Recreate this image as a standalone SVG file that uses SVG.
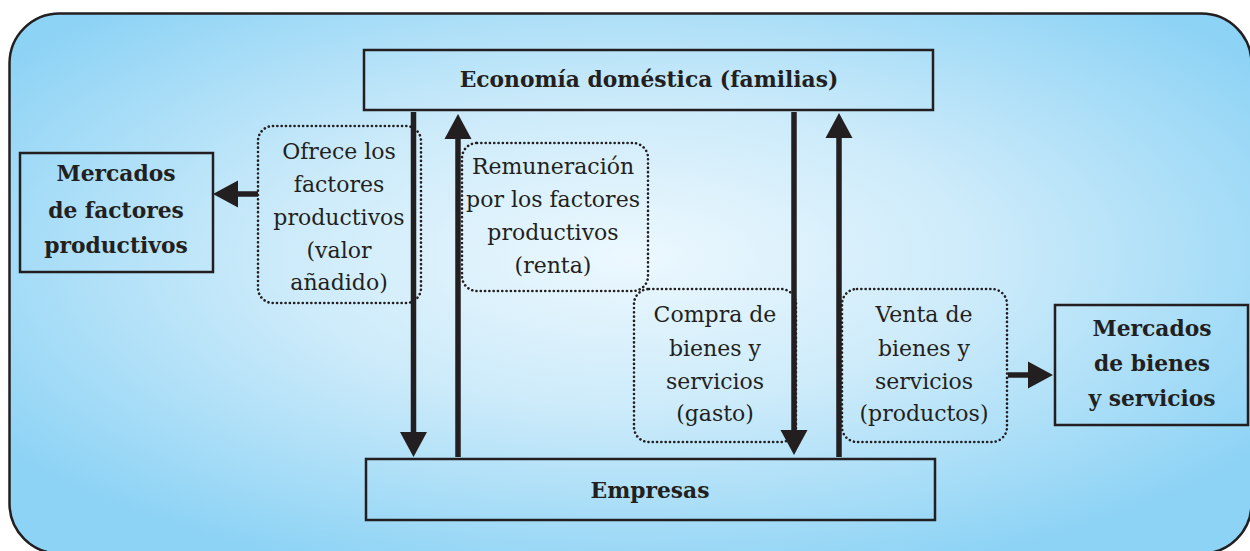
<svg xmlns="http://www.w3.org/2000/svg" width="1250" height="551" viewBox="0 0 1250 551">
<defs>
<radialGradient id="bg" cx="0.5" cy="0.45" r="0.62">
<stop offset="0" stop-color="#ecf8fe"/>
<stop offset="0.45" stop-color="#cdebfa"/>
<stop offset="1" stop-color="#8dd3f5"/>
</radialGradient>
<marker id="ah" markerUnits="userSpaceOnUse" markerWidth="26" markerHeight="28" refX="0" refY="13.5" orient="auto" overflow="visible">
<path d="M0,0 L25,13.5 L0,27 Z" fill="#231f20"/>
</marker>
<style>
.box{fill:none;stroke:#231f20;stroke-width:2.5}
.dot{fill:none;stroke:#231f20;stroke-width:2.6;stroke-dasharray:0.1 4.2;stroke-linecap:round}
.arr{stroke:#231f20;stroke-width:5.5;fill:none;marker-end:url(#ah)}
.t{font-family:"DejaVu Serif","Liberation Serif",serif;font-size:22px;fill:#231f20;text-anchor:middle}
.b{font-family:"DejaVu Serif","Liberation Serif",serif;font-size:21.8px;font-weight:bold;fill:#231f20;text-anchor:middle}
</style>
</defs>
<rect x="9.5" y="13.5" width="1242" height="540" rx="50" ry="50" fill="url(#bg)" stroke="#231f20" stroke-width="2.5"/>
<g id="connectors">
<line class="arr" x1="413.5" y1="112" x2="413.5" y2="432"/>
<line class="arr" x1="458" y1="457" x2="458" y2="139"/>
<line class="arr" x1="794" y1="112" x2="794" y2="430"/>
<line class="arr" x1="839" y1="457" x2="839" y2="138"/>
<line class="arr" x1="258" y1="194" x2="238" y2="194"/>
<line class="arr" x1="1008" y1="375" x2="1028" y2="375"/>
</g>
<g id="familias">
<rect class="box" x="364" y="50" width="569" height="60"/>
<text class="b" x="649" y="87">Economía doméstica (familias)</text>
</g>
<g id="empresas">
<rect class="box" x="366" y="459" width="569" height="61"/>
<text class="b" x="650" y="498">Empresas</text>
</g>
<g id="mercados-factores">
<rect class="box" x="20" y="153" width="193" height="119"/>
<text class="b" x="116" y="181">Mercados</text>
<text class="b" x="116" y="218">de factores</text>
<text class="b" x="116" y="253">productivos</text>
</g>
<g id="mercados-bienes">
<rect class="box" x="1055" y="305" width="193" height="120"/>
<text class="b" x="1152" y="336">Mercados</text>
<text class="b" x="1152" y="371">de bienes</text>
<text class="b" x="1152" y="406">y servicios</text>
</g>
<g id="ofrece">
<rect class="dot" x="258" y="126" width="163" height="177" rx="15" ry="15"/>
<text class="t" x="339" y="159">Ofrece los</text>
<text class="t" x="339" y="192">factores</text>
<text class="t" x="339" y="225">productivos</text>
<text class="t" x="339" y="258">(valor</text>
<text class="t" x="339" y="290">añadido)</text>
</g>
<g id="remuneracion">
<rect class="dot" x="462" y="143" width="186" height="148" rx="15" ry="15"/>
<text class="t" x="553" y="174">Remuneración</text>
<text class="t" x="553" y="207">por los factores</text>
<text class="t" x="553" y="240">productivos</text>
<text class="t" x="553" y="273">(renta)</text>
</g>
<g id="compra">
<rect class="dot" x="634" y="289" width="162" height="153" rx="15" ry="15"/>
<text class="t" x="715" y="322">Compra de</text>
<text class="t" x="715" y="356">bienes y</text>
<text class="t" x="715" y="389">servicios</text>
<text class="t" x="715" y="421">(gasto)</text>
</g>
<g id="venta">
<rect class="dot" x="842" y="289" width="165" height="153" rx="15" ry="15"/>
<text class="t" x="924" y="322">Venta de</text>
<text class="t" x="924" y="356">bienes y</text>
<text class="t" x="924" y="389">servicios</text>
<text class="t" x="924" y="421">(productos)</text>
</g>
</svg>
